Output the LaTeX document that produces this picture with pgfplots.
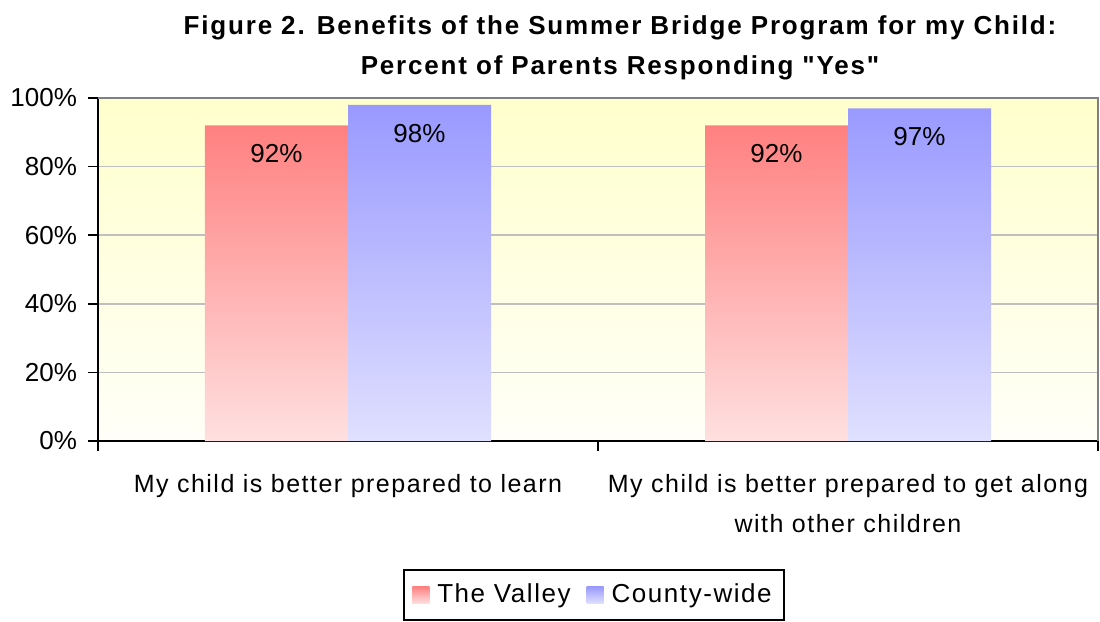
\documentclass[border=0pt]{standalone}
\usepackage{fontspec}
\setmainfont{Liberation Sans}
\newfontfamily\spaced[LetterSpace=6]{Liberation Sans}
\newfontfamily\tspaced[LetterSpace=7]{Liberation Sans}
\usepackage{pgfplots}
\pgfplotsset{compat=1.18}
\definecolor{redtop}{HTML}{FF8080}
\definecolor{redbot}{HTML}{FFE0E0}
\definecolor{redmid}{HTML}{FFC0C0}
\definecolor{bluetop}{HTML}{9999FF}
\definecolor{bluebot}{HTML}{E0E0FF}
\definecolor{bluemid}{HTML}{C8C8FF}
\definecolor{bgtop}{HTML}{FFFFCC}
\definecolor{bgbot}{HTML}{FFFFF8}
\begin{document}
\begin{tikzpicture}
\useasboundingbox (0,0) rectangle (550pt,311pt);
\begin{axis}[
  at={(49pt,90.5pt)}, anchor=south west,
  scale only axis, width=500pt, height=171.5pt,
  font=\fontsize{13}{15}\selectfont,
  ybar=0pt, bar width=0.286,
  xmin=-0.5, xmax=1.5, ymin=0, ymax=100,
  xtick={0,1},
  xticklabels={My child is better prepared to learn,{My child is better prepared to get along\\with other children}},
  xticklabel style={align=center, font=\spaced\fontsize{12.5}{20}\selectfont, yshift=-8pt},
  minor xtick={-0.5,0.5,1.5},
  major x tick style={draw=none},
  minor x tick style={black, line width=0.8pt},
  minor tick length=5pt,
  major tick length=5pt,
  ytick={0,20,40,60,80,100},
  yticklabel={\pgfmathprintnumber{\tick}\%},
  yticklabel style={xshift=-2pt},
  /pgf/number format/assume math mode=true,
  y tick style={black, line width=0.8pt},
  tick align=outside, tick pos=left,
  axis x line*=bottom, axis y line*=left,
  axis line style={black, line width=1pt, -},
  ymajorgrids, grid style={gray!50, line width=0.8pt},
  axis background/.style={top color=bgtop, bottom color=bgbot},
  nodes near coords={\pgfmathprintnumber{\pgfplotspointmeta}\%},
  nodes near coords align={below},
  every node near coord/.append style={font=\fontsize{13}{15}\selectfont, yshift=-6pt, black},
  legend columns=2,
  legend style={at={(0.496,-0.449)}, anchor=center, draw=black, line width=0.8pt,
    font=\spaced\fontsize{13}{15}\selectfont, inner xsep=4pt, inner ysep=5pt,
    /tikz/every odd column/.append style={column sep=2pt},
    /tikz/every even column/.append style={column sep=6pt}},
  legend image code/.code={\path[#1, draw=none] (0pt,-4.25pt) rectangle (8.5pt,4.25pt);},
  clip=false,
]
\addplot[draw=none, top color=redtop, middle color=redmid, bottom color=redbot] coordinates {(0,92) (1,92)};
\addplot[draw=none, top color=bluetop, middle color=bluemid, bottom color=bluebot] coordinates {(0,98) (1,97)};
\legend{The Valley,County-wide}
\draw[gray, line width=1pt] (rel axis cs:0,1) -- (rel axis cs:1,1) -- (rel axis cs:1,0);
\node[font=\tspaced\bfseries\fontsize{13}{20}\selectfont, align=center] at (rel axis cs:0.522,1.146)
  {Figure 2. Benefits of the Summer Bridge Program for my Child:\\Percent of Parents Responding "Yes"};
\end{axis}
\end{tikzpicture}
\end{document}
